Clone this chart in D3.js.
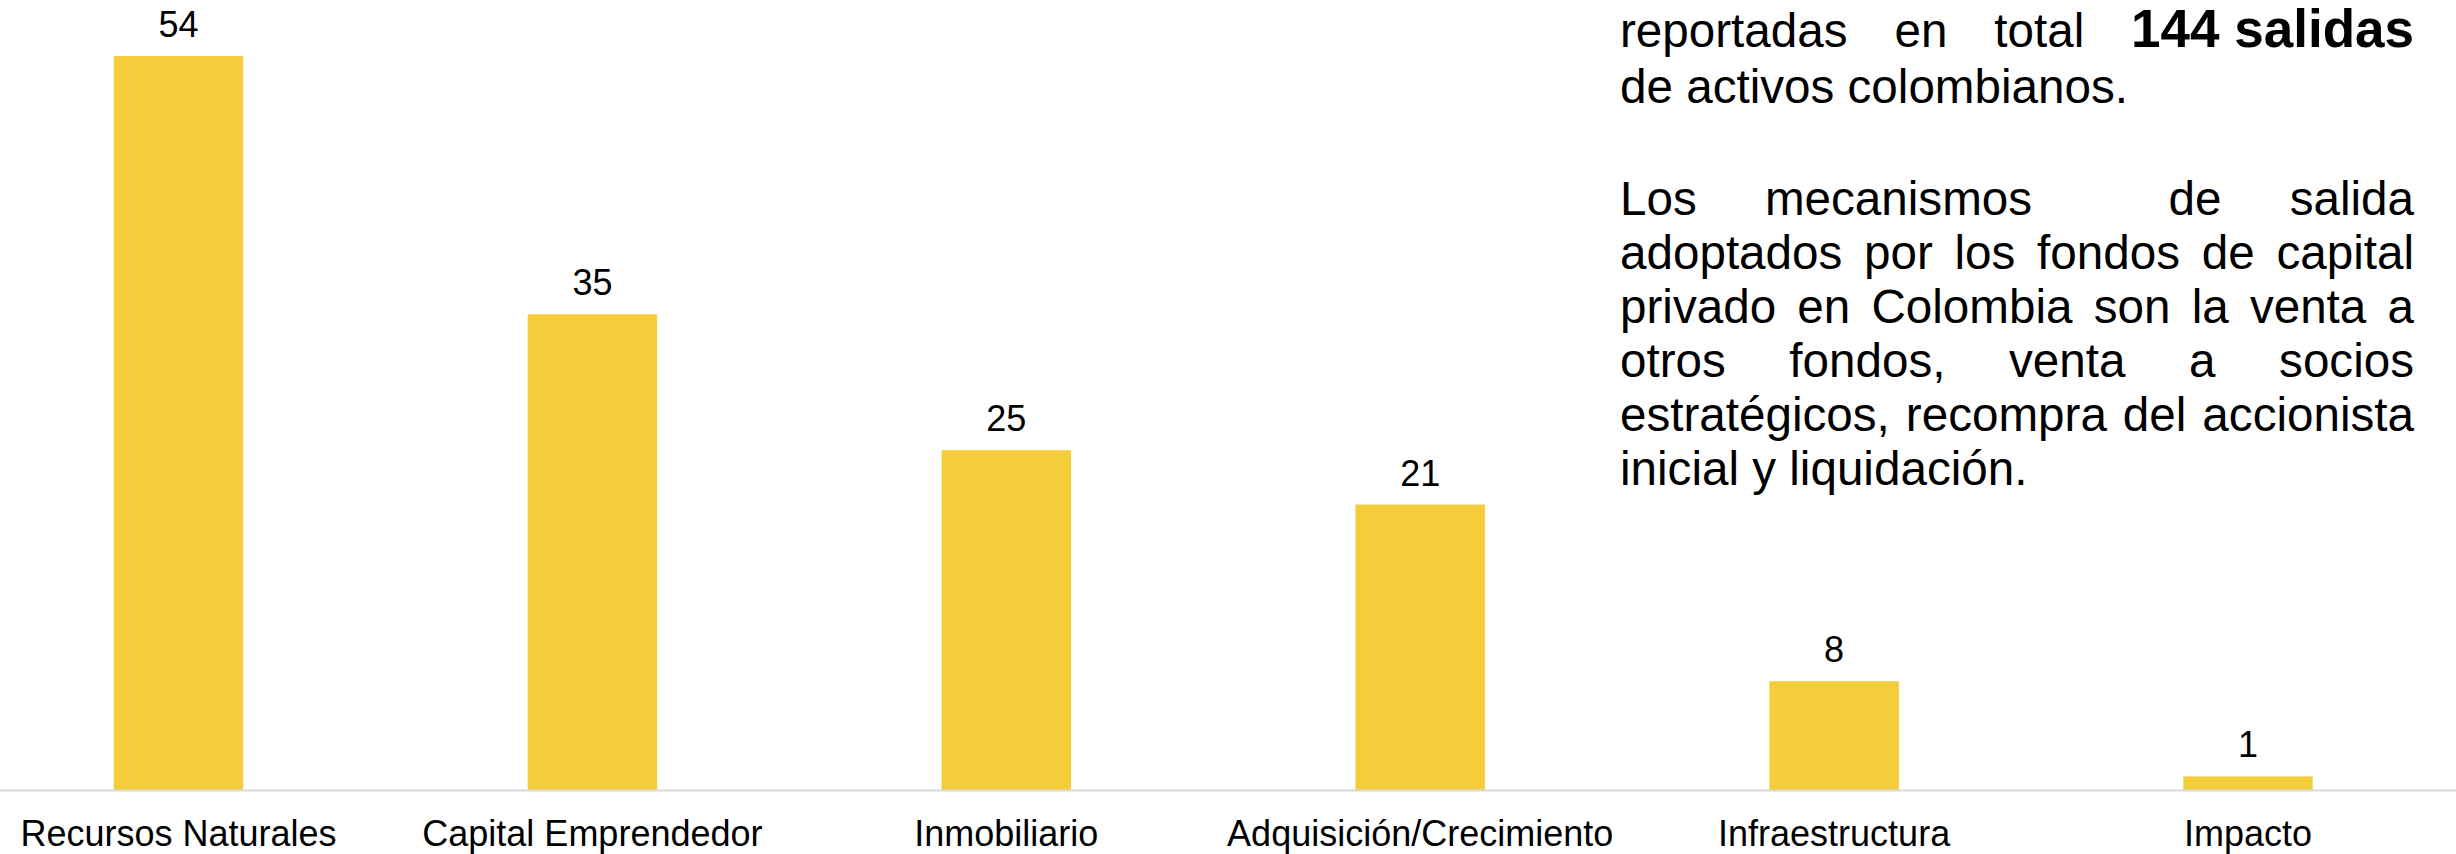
<!DOCTYPE html>
<html>
<head>
<meta charset="utf-8">
<script src="https://cdn.jsdelivr.net/npm/d3@7"></script>
<style>
  html, body { margin: 0; padding: 0; background: #ffffff; }
  svg { display: block; }
  text { font-family: "Liberation Sans", Arial, sans-serif; fill: #000; }
</style>
</head>
<body>
<script>
// ---- data ----
const categories = ["Recursos Naturales", "Capital Emprendedor", "Inmobiliario", "Adquisición/Crecimiento", "Infraestructura", "Impacto"];
const values = [54, 35, 25, 21, 8, 1];

// note text: each line is a list of words; bold words marked with "**"
const noteLines = [
  { words: ["reportadas", "en", "total", "**144 salidas"], justify: true },
  { words: ["de", "activos", "colombianos."], justify: false },
  { words: ["Los", "mecanismos", "", "de", "salida"], justify: true },
  { words: ["adoptados", "por", "los", "fondos", "de", "capital"], justify: true },
  { words: ["privado", "en", "Colombia", "son", "la", "venta", "a"], justify: true },
  { words: ["otros", "fondos,", "venta", "a", "socios"], justify: true },
  { words: ["estratégicos,", "recompra", "del", "accionista"], justify: true },
  { words: ["inicial", "y", "liquidación."], justify: false }
];
const noteBaselines = [47, 103, 215, 269, 323, 377, 431, 485];

// ---- layout ----
const W = 2456, H = 854;
const baseY = 790;
const svg = d3.select("body").append("svg").attr("width", W).attr("height", H);

const step = 413.9, bw = 129.5, c0 = 178.5;
const pIn = 1 - bw / step;
const x = d3.scaleBand()
  .domain(categories)
  .range([c0 - step / 2, c0 - step / 2 + step * categories.length])
  .paddingInner(pIn)
  .paddingOuter(pIn / 2);

const y = d3.scaleLinear().domain([0, 54]).range([baseY, 56]);

// bars
svg.append("g").selectAll("rect")
  .data(values)
  .join("rect")
  .attr("x", (d, i) => x(categories[i]))
  .attr("width", x.bandwidth())
  .attr("y", d => y(d))
  .attr("height", d => y(0) - y(d))
  .attr("fill", "#F4CD3A");

// value labels
svg.append("g").selectAll("text")
  .data(values)
  .join("text")
  .attr("x", (d, i) => x(categories[i]) + x.bandwidth() / 2)
  .attr("y", d => y(d) - 19)
  .attr("text-anchor", "middle")
  .style("font-size", "36px")
  .text(d => d);

// x axis
const xAxis = d3.axisBottom(x).tickSize(0).tickPadding(0);
const gx = svg.append("g").attr("transform", `translate(0,${baseY})`).call(xAxis);
gx.select(".domain").remove();
gx.selectAll(".tick text")
  .attr("y", 56)
  .attr("dy", 0)
  .style("font-size", "36px")
  .style("font-family", '"Liberation Sans", Arial, sans-serif')
  .attr("fill", "#000");
svg.append("line")
  .attr("x1", 0).attr("x2", W)
  .attr("y1", baseY + 0.5).attr("y2", baseY + 0.5)
  .attr("stroke", "#d9d9d9").attr("stroke-width", 2);

// justified note text
const left = 1620, right = 2414;
const regSize = 47.6, boldSize = 53;
const gNote = svg.append("g");
noteLines.forEach((ln, li) => {
  const t = gNote.append("text").attr("y", noteBaselines[li]);
  const spans = ln.words.map(w => {
    const bold = w.startsWith("**");
    return t.append("tspan")
      .style("font-size", (bold ? boldSize : regSize) + "px")
      .style("font-weight", bold ? "bold" : "normal")
      .text(bold ? w.slice(2) : w);
  });
  const widths = spans.map(s => s.node().getComputedTextLength());
  const spaceW = regSize * 0.278;
  const total = d3.sum(widths);
  const gaps = ln.words.length - 1;
  let gap = spaceW;
  if (ln.justify && gaps > 0) gap = (right - left - total) / gaps;
  let cx = left;
  spans.forEach((s, i) => {
    s.attr("x", cx);
    cx += widths[i] + gap;
  });
});
</script>
</body>
</html>
